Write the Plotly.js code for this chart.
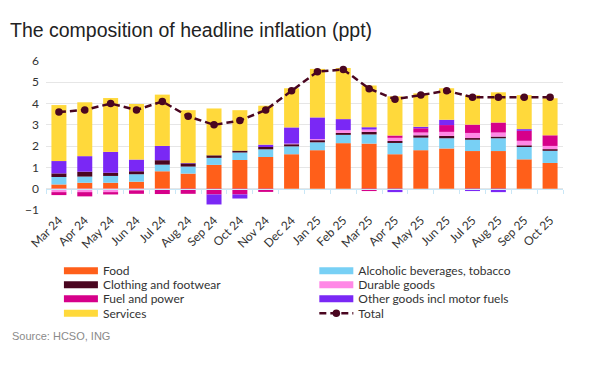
<!DOCTYPE html>
<html>
<head>
<meta charset="utf-8">
<script src="https://cdn.plot.ly/plotly-3.0.1.min.js"></script>
<style>
  html, body { margin: 0; padding: 0; background: #fff; }
  #chart { width: 589px; height: 366px; }
</style>
</head>
<body>
<div id="chart"></div>
<script>
const months = ['Mar 24','Apr 24','May 24','Jun 24','Jul 24','Aug 24','Sep 24','Oct 24','Nov 24','Dec 24',
                'Jan 25','Feb 25','Mar 25','Apr 25','May 25','Jun 25','Jul 25','Aug 25','Sep 25','Oct 25'];
const food     = [0.20,0.28,0.28,0.33,0.82,0.71,1.12,1.35,1.49,1.62,1.81,2.14,2.12,1.62,1.81,1.89,1.77,1.77,1.38,1.21];
const alcohol  = [0.35,0.29,0.32,0.35,0.31,0.33,0.33,0.35,0.36,0.37,0.37,0.39,0.43,0.53,0.59,0.48,0.53,0.60,0.58,0.57];
const clothing = [0.17,0.23,0.15,0.14,0.21,0.15,0.12,0.09,0.11,0.10,0.10,0.09,0.12,0.09,0.11,0.11,0.08,0.08,0.08,0.08];
const durable  = [-0.16,-0.16,-0.16,-0.08,-0.03,0.00,0.00,0.00,0.00,0.03,0.05,0.13,0.11,0.15,0.13,0.19,0.24,0.19,0.21,0.15];
const fuel     = [-0.14,-0.20,-0.11,-0.16,-0.22,-0.24,-0.27,-0.27,-0.15,0.00,0.00,0.00,-0.11,0.11,0.20,0.32,0.39,0.47,0.47,0.50];
const other    = [0.58,0.73,0.98,0.55,0.67,0.02,-0.47,-0.19,0.11,0.76,1.02,0.52,0.11,-0.16,0.07,0.25,-0.11,-0.16,0.08,0.00];
const services = [2.63,2.53,2.53,2.61,2.41,2.48,2.20,1.90,1.83,1.84,2.28,2.40,1.96,1.84,1.57,1.48,1.39,1.42,1.60,1.74];
const total    = [3.6,3.7,4.0,3.7,4.1,3.4,3.0,3.2,3.7,4.6,5.5,5.6,4.7,4.2,4.4,4.6,4.3,4.3,4.3,4.3];

const seriesNames = ['Food','Alcoholic beverages, tobacco','Clothing and footwear','Durable goods',
                     'Fuel and power','Other goods incl motor fuels','Services'];
const seriesData = [food, alcohol, clothing, durable, fuel, other, services];
const colors = ['#ff5f1a','#78d0f5','#4a0620','#ff88e6','#d6008a','#7a28f5','#ffd93b'];
const totalColor = '#4a0620';

function legendId(i) { return i === 0 ? 'legend' : 'legend' + (i + 1); }

const traces = [];
seriesData.forEach((vals, i) => {
  traces.push({
    type: 'bar', x: months, y: vals, name: seriesNames[i],
    marker: {color: colors[i], line: {width: 0}},
    showlegend: false, hoverinfo: 'x+y+name'
  });
});
// legend swatches (wide bars like the original)
seriesData.forEach((vals, i) => {
  traces.push({
    type: 'scatter', mode: 'lines', x: [null], y: [null], name: seriesNames[i],
    line: {color: colors[i], width: 7}, legend: legendId(i), showlegend: true, hoverinfo: 'skip'
  });
});
traces.push({
  type: 'scatter', mode: 'lines+markers', x: months, y: total, name: 'Total',
  line: {color: totalColor, width: 2.5, dash: '7px,4px'},
  marker: {color: totalColor, size: 7.5, symbol: 'circle'},
  legend: legendId(7), showlegend: true
});
// carrier for the zero-line axis with boundary ticks
traces.push({
  type: 'scatter', mode: 'lines', x: months, y: total, xaxis: 'x2',
  line: {width: 0, color: 'rgba(0,0,0,0)'}, showlegend: false, hoverinfo: 'skip'
});

const tickFont = {family: 'Lato, "Noto Sans", sans-serif', size: 12, color: '#333'};
const legendFont = {family: 'Lato, "Noto Sans", sans-serif', size: 12, color: '#333'};

const layout = {
  width: 589, height: 366,
  margin: {l: 46, r: 26, t: 61, b: 156},
  paper_bgcolor: '#fff', plot_bgcolor: '#fff',
  barmode: 'relative', bargap: 0.42,
  title: {text: 'The composition of headline inflation (ppt)', x: 0.017, xanchor: 'left',
          y: 0.918, yanchor: 'middle',
          font: {family: '"Liberation Sans", Arial, sans-serif', size: 19.5, color: '#222'}},
  xaxis: {type: 'category', categoryorder: 'array', categoryarray: months,
          range: [-0.5, 19.5], tickangle: -45, tickfont: tickFont,
          showgrid: false, showline: false, ticks: '', zeroline: false},
  xaxis2: {type: 'category', categoryorder: 'array', categoryarray: months,
           range: [-0.5, 19.5], overlaying: 'x', anchor: 'free', position: 1/7, side: 'bottom',
           showticklabels: false, showgrid: false, showline: true, linecolor: '#c9e7f7', linewidth: 1,
           ticks: 'outside', tickson: 'boundaries', ticklen: 4, tickcolor: '#c9e7f7', tickwidth: 1},
  yaxis: {range: [-1, 6], dtick: 1, tick0: 0, tickfont: tickFont, showgrid: true,
          gridcolor: '#e6e6e6', gridwidth: 1, zeroline: false, showline: false, ticks: '',
          ticklabelstandoff: 6},
  annotations: [{
    text: 'Source: HCSO, ING', xref: 'paper', yref: 'paper', x: -0.0696, y: -0.846,
    xanchor: 'left', yanchor: 'middle', showarrow: false,
    font: {family: '"Liberation Sans", Arial, sans-serif', size: 11, color: '#8a8a8a'}
  }],
  showlegend: true
};

// legend grid: two columns, four rows
const legendColX = [0.025, 0.519];
const legendRowY = [-0.310, -0.404, -0.498, -0.595];
for (let i = 0; i < 8; i++) {
  layout[legendId(i)] = {
    x: legendColX[i % 2], xanchor: 'left', y: legendRowY[Math.floor(i / 2)], yanchor: 'top',
    orientation: 'v', font: legendFont, itemwidth: 34, tracegroupgap: 0,
    bgcolor: 'rgba(0,0,0,0)', borderwidth: 0, itemclick: false, itemdoubleclick: false
  };
}

Plotly.newPlot('chart', traces, layout, {displayModeBar: false, staticPlot: true});
</script>
</body>
</html>
